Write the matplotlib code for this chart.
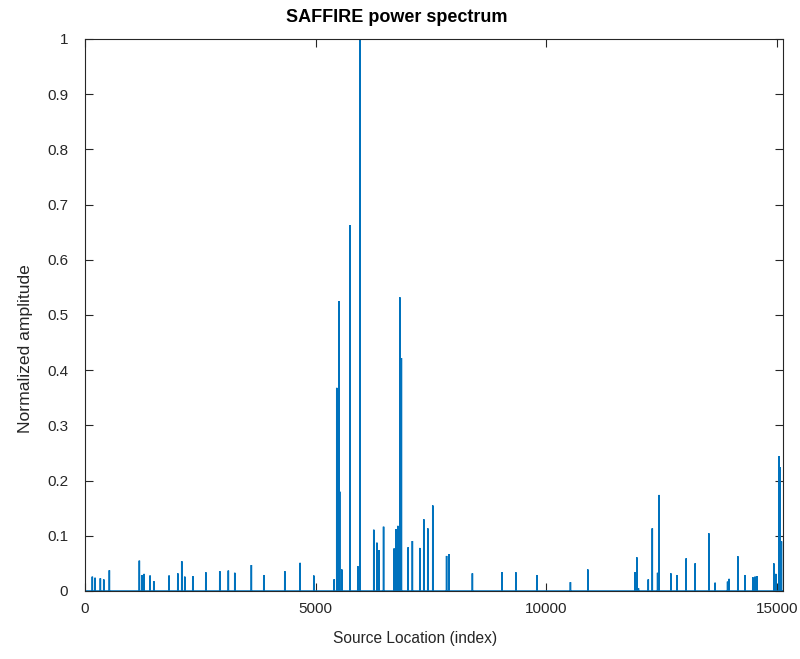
import numpy as np
import matplotlib
matplotlib.use("Agg")
import matplotlib.pyplot as plt

# ---- data ----
n_samples = 15130
spike_index = [158, 217, 332, 405, 527, 1177, 1229, 1279, 1409, 1489, 1821, 2010, 2096,
               2161, 2335, 2617, 2920, 3106, 3245, 3605, 3874, 4329, 4661, 4958,
               5398, 5456, 5506, 5520, 5565, 5745, 5912, 5961,
               6258, 6326, 6369, 6471, 6699, 6738, 6781, 6824, 6857, 7002, 7095,
               7256, 7342, 7429, 7537, 7837, 7886, 8396, 9040, 9337, 9792, 10521,
               10898, 11923, 11960, 11995, 12209, 12296, 12411, 12443, 12697, 12827,
               13029, 13224, 13521, 13657, 13928, 13961, 14149, 14303, 14474, 14524,
               14561, 14930, 14973, 15038, 15066, 15095]
spike_amp = [0.026, 0.024, 0.023, 0.021, 0.0375, 0.055, 0.029, 0.031, 0.028, 0.018, 0.028,
             0.032, 0.054, 0.026, 0.027, 0.034, 0.036, 0.037, 0.033, 0.047, 0.029, 0.036,
             0.051, 0.028, 0.021, 0.368, 0.525, 0.18, 0.039, 0.663, 0.045, 1.0,
             0.111, 0.0875, 0.074, 0.1165, 0.077, 0.112, 0.118, 0.532, 0.422, 0.079,
             0.0905, 0.078, 0.130, 0.1135, 0.155, 0.0635, 0.067, 0.032, 0.034, 0.034,
             0.029, 0.016, 0.039, 0.034, 0.061, 0.005, 0.021, 0.1135, 0.033, 0.174,
             0.032, 0.029, 0.059, 0.050, 0.1045, 0.015, 0.017, 0.022, 0.063, 0.029,
             0.025, 0.026, 0.027, 0.050, 0.031, 0.2445, 0.224, 0.09]
x_ticks = [0, 5000, 10000, 15000]
y_ticks = [0, 0.1, 0.2, 0.3, 0.4, 0.5, 0.6, 0.7, 0.8, 0.9, 1]
y_tick_labels = ["0", "0.1", "0.2", "0.3", "0.4", "0.5", "0.6", "0.7", "0.8", "0.9", "1"]

signal = np.zeros(n_samples)
signal[np.array(spike_index)] = np.array(spike_amp)
idx = np.arange(1, n_samples + 1)

plt.rcParams['font.family'] = ['Liberation Sans', 'DejaVu Sans']
axcol = '#262626'

fig = plt.figure(figsize=(8.0, 6.59), dpi=100)
ax = fig.add_axes([85/800, 1 - 591/659, (783 - 85)/800, (591 - 39)/659])
ax.plot(idx, signal, color='#0072BD', linewidth=1.1, solid_joinstyle='miter')

ax.set_xlim(0, n_samples)
ax.set_ylim(0, 1)
ax.set_xticks(x_ticks)
ax.set_xticklabels([str(t) for t in x_ticks])
ax.set_yticks(y_ticks)
ax.set_yticklabels(y_tick_labels)
ax.tick_params(direction='in', length=6, width=0.8, colors=axcol, labelsize=11,
               top=True, right=True)
ax.tick_params(axis='x', pad=8)
ax.tick_params(axis='y', pad=12)
for s in ax.spines.values():
    s.set_color(axcol)
    s.set_linewidth(0.8)

ax.set_title('SAFFIRE power spectrum', fontsize=13, fontweight='bold', pad=12, x=0.446)
ax.set_xlabel('Source Location (index)', fontsize=11.2, color=axcol, labelpad=11)
ax.set_ylabel('Normalized amplitude', fontsize=12.6, color=axcol, labelpad=10)
ax.xaxis.label.set_x(0.473)
ax.yaxis.label.set_y(0.44)

fig.savefig('out.png', dpi=100)
